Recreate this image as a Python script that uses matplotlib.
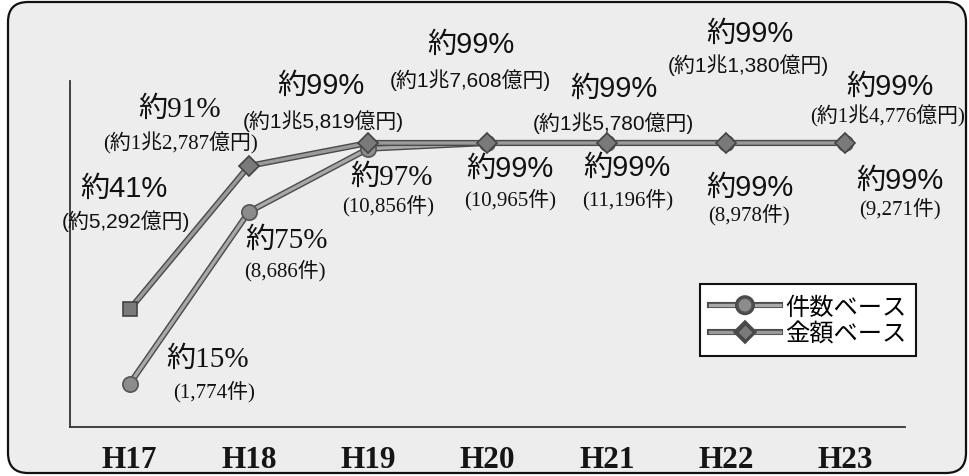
import matplotlib
matplotlib.use("Agg")
import matplotlib.pyplot as plt
import matplotlib.patches as mpatches
import matplotlib.patheffects as pe
from matplotlib.transforms import IdentityTransform
from matplotlib.lines import Line2D

# ---- data -------------------------------------------------------------
years = ["H17", "H18", "H19", "H20", "H21", "H22", "H23"]
count_pct = [15, 75, 97, 99, 99, 99, 99]            # 件数ベース (%)
amount_pct = [41, 91, 99, 99, 99, 99, 99]           # 金額ベース (%)
count_cases = [1774, 8686, 10856, 10965, 11196, 8978, 9271]          # 件
amount_oku = [5292, 12787, 15819, 17608, 15780, 11380, 14776]        # 億円
legend_labels = ["件数ベース", "金額ベース"]

SANS = ["Liberation Sans", "Noto Sans CJK JP"]
SERIF = ["Liberation Serif", "Noto Sans CJK JP"]
CJK = ["Noto Sans CJK JP"]


def oku_text(v):
    if v >= 10000:
        return f"(約{v // 10000}兆{v % 10000:,}億円)"
    return f"(約{v:,}億円)"


fig = plt.figure(figsize=(9.7, 4.77), dpi=100)
fig.patch.set_facecolor("white")

# rounded panel behind the chart
frame = mpatches.FancyBboxPatch(
    (8, 3), 958, 471,
    boxstyle="round,pad=0,rounding_size=20",
    transform=IdentityTransform(),
    facecolor="#ededed", edgecolor="#111111", linewidth=1.6, zorder=-5,
)
fig.patches.append(frame)

ax = fig.add_axes([70 / 970, 49 / 477, 835 / 970, 346 / 477])
ax.set_zorder(1)
ax.set_facecolor("none")
ax.set_xlim(-0.5, 6.5)
ax.set_ylim(0, 120.6)

for side in ("top", "right"):
    ax.spines[side].set_visible(False)
for side in ("left", "bottom"):
    ax.spines[side].set_color("#333333")
    ax.spines[side].set_linewidth(1.3)

ax.set_yticks([])
x = list(range(len(years)))
ax.set_xticks(x)
ax.set_xticklabels(years, fontfamily=SERIF, fontsize=22.5, fontweight="bold",
                   color="#151515")
ax.tick_params(axis="x", length=0, pad=13)

outline = [pe.Stroke(linewidth=4.4, foreground="#4a4a4a"), pe.Normal()]

# 件数ベース
ax.plot(x, count_pct, color="#a8a8a8", lw=2.4, zorder=3,
        path_effects=outline, solid_capstyle="butt")
ax.plot(x, count_pct, linestyle="none", marker="o", ms=11,
        markerfacecolor="#8c8c8c", markeredgecolor="#555555",
        markeredgewidth=1.2, zorder=4)

# 金額ベース
ax.plot(x, amount_pct, color="#9a9a9a", lw=2.4, zorder=3,
        path_effects=outline, solid_capstyle="butt")
ax.plot(x[:1], amount_pct[:1], linestyle="none", marker="s", ms=10,
        markerfacecolor="#7a7a7a", markeredgecolor="#444444",
        markeredgewidth=1.2, zorder=4)
ax.plot(x[1:], amount_pct[1:], linestyle="none", marker="D", ms=10,
        markerfacecolor="#7a7a7a", markeredgecolor="#444444",
        markeredgewidth=1.2, zorder=4)

# label placement (pixel offsets from each marker) and typefaces
amt_main_off = [(-6, 121), (-69, 57), (-47, 58), (-17, 99), (7, 55), (24, 110), (45, 57)]
amt_sub_off = [(-4, 89), (-68, 24), (-45, 23), (-17, 64), (7, 21), (22, 79), (42, 28)]
amt_main_font = [SANS, SERIF, SANS, SANS, SANS, SANS, SANS]
amt_sub_font = [SANS, SERIF, SANS, SANS, SANS, SANS, SERIF]

cnt_main_off = [(78, 25), (38, -28), (23, -28), (22, -25), (20, -24), (24, -44), (55, -37)]
cnt_sub_off = [(84, -7), (36, -58), (20, -56), (23, -56), (21, -56), (23, -71), (55, -65)]
cnt_main_font = [SERIF, SERIF, SERIF, SANS, SANS, SANS, SANS]

for i in x:
    ax.annotate(f"約{amount_pct[i]}%", (i, amount_pct[i]), xytext=amt_main_off[i],
                textcoords="offset pixels", ha="center", va="center",
                fontsize=21, fontfamily=amt_main_font[i], color="#111111", zorder=5)
    ax.annotate(oku_text(amount_oku[i]), (i, amount_pct[i]), xytext=amt_sub_off[i],
                textcoords="offset pixels", ha="center", va="center",
                fontsize=15, fontfamily=amt_sub_font[i], color="#111111", zorder=5)
    ax.annotate(f"約{count_pct[i]}%", (i, count_pct[i]), xytext=cnt_main_off[i],
                textcoords="offset pixels", ha="center", va="center",
                fontsize=21, fontfamily=cnt_main_font[i], color="#111111", zorder=5)
    ax.annotate(f"({count_cases[i]:,}件)", (i, count_pct[i]), xytext=cnt_sub_off[i],
                textcoords="offset pixels", ha="center", va="center",
                fontsize=15, fontfamily=SERIF, color="#111111", zorder=5)

handles = [
    Line2D([], [], color="#a8a8a8", lw=2.4, path_effects=outline, marker="o", ms=10,
           markerfacecolor="#8c8c8c", markeredgecolor="#555555"),
    Line2D([], [], color="#9a9a9a", lw=2.4, path_effects=outline, marker="D", ms=8,
           markerfacecolor="#7a7a7a", markeredgecolor="#444444"),
]
leg = ax.legend(handles, legend_labels, loc="upper left",
                bbox_to_anchor=(700 / 970, 1 - 285 / 477), bbox_transform=fig.transFigure,
                prop={"family": CJK, "size": 17.5}, frameon=True, fancybox=False,
                edgecolor="#111111", framealpha=1, facecolor="white",
                handlelength=2.9, handletextpad=0.2, labelspacing=0.02,
                borderpad=0.4, borderaxespad=0)
leg.get_frame().set_linewidth(1.5)
leg.set_zorder(6)

fig.savefig("out.png", dpi=100, facecolor="white")
